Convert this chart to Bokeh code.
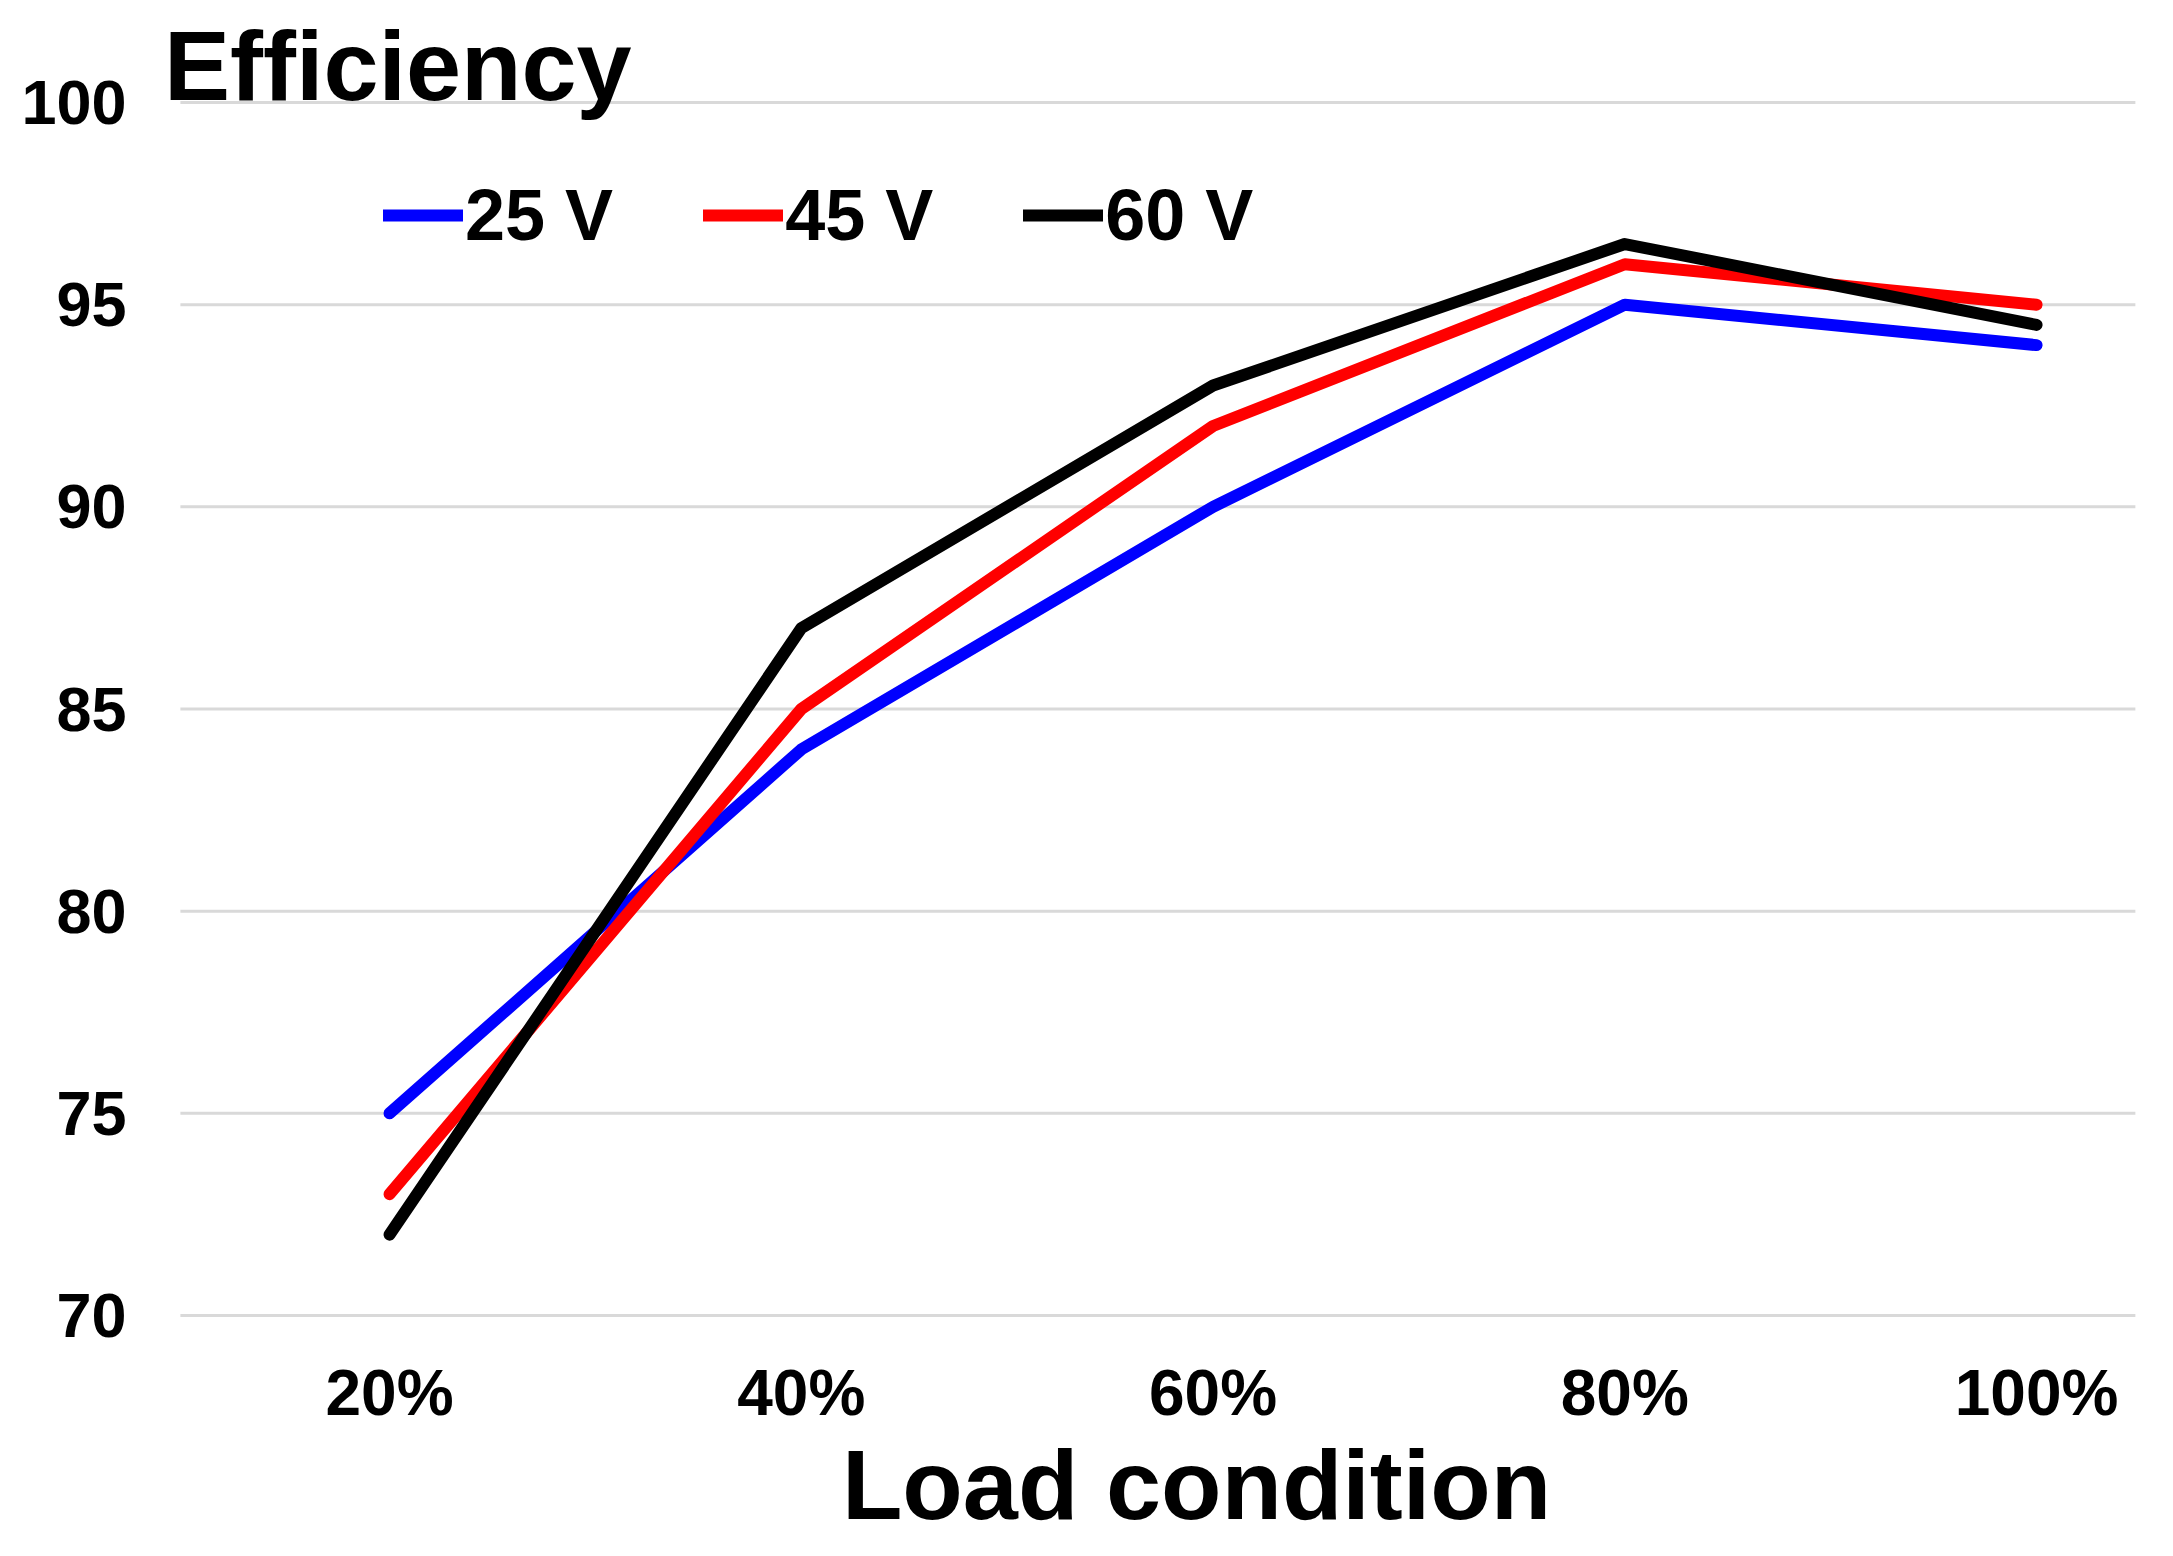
from bokeh.plotting import figure
from bokeh.models import FixedTicker, Legend, LegendItem, Label, Range1d
from bokeh.embed import file_html
from bokeh.resources import INLINE

# ---- data ----
categories = ["20%", "40%", "60%", "80%", "100%"]
series_names = ["25 V", "45 V", "60 V"]
v25 = [75, 84, 90, 95, 94]
v45 = [73, 85, 92, 96, 95]
v60 = [72, 87, 93, 96.5, 94.5]
y_ticks = [70, 75, 80, 85, 90, 95, 100]
colors = ["#0000ff", "#ff0000", "#000000"]
title_text = "Efficiency"
x_title = "Load condition"

FONT = "Liberation Sans"
x = list(range(len(categories)))
GRID_START, GRID_END = -0.508, 4.24

# frame spans the full height; the y range is padded so that 70..100
# falls where the reference grid is, leaving room for the titles inside
p = figure(width=2157, height=1540, output_backend="svg", toolbar_location=None,
           x_range=Range1d(-0.5806, 4.25), y_range=Range1d(64.435, 102.523),
           min_border_left=150, min_border_right=18, min_border_top=0,
           min_border_bottom=0, background_fill_color="white",
           border_fill_color="white")
p.outline_line_color = None
p.title.visible = False

# horizontal grid lines limited to the plotting area of the reference
p.xgrid.visible = False
p.ygrid.visible = False
p.segment(x0=[GRID_START] * len(y_ticks), x1=[GRID_END] * len(y_ticks),
          y0=y_ticks, y1=y_ticks, line_color="#d9d9d9", line_width=3,
          level="underlay")

# axes
for ax in (p.xaxis[0], p.yaxis[0]):
    ax.axis_line_color = None
    ax.major_tick_line_color = None
    ax.minor_tick_line_color = None
    ax.major_tick_out = 0
    ax.major_tick_in = 0
    ax.major_label_text_font = FONT
    ax.major_label_text_font_style = "bold"
    ax.major_label_text_color = "black"

p.xaxis.ticker = FixedTicker(ticks=x)
p.xaxis.major_label_overrides = {i: c for i, c in zip(x, categories)}
p.xaxis.major_label_text_font_size = "64px"
p.xaxis.major_label_standoff = 42
p.xaxis.fixed_location = y_ticks[0]

p.yaxis.ticker = FixedTicker(ticks=y_ticks)
p.yaxis.major_label_text_font_size = "63px"
p.yaxis.major_label_standoff = 24

# lines
items = []
for name, vals, col in zip(series_names, [v25, v45, v60], colors):
    r = p.line(x, vals, line_color=col, line_width=12,
               line_join="round", line_cap="round")
    items.append(LegendItem(label=name, renderers=[r]))

legend = Legend(items=items, orientation="horizontal", location=(233, 1284),
                padding=0, margin=0, spacing=90, glyph_width=80,
                label_standoff=2, border_line_color=None,
                background_fill_alpha=0, label_text_font=FONT,
                label_text_font_style="bold", label_text_font_size="72px",
                label_text_color="black")
p.add_layout(legend, "center")

# titles
p.add_layout(Label(x=-0.548, y=99.555, text=title_text, text_font=FONT,
                   text_font_style="bold", text_font_size="99px",
                   text_baseline="bottom", text_align="left",
                   text_color="black"))
p.add_layout(Label(x=1.96, y=64.44, text=x_title, text_font=FONT,
                   text_font_style="bold", text_font_size="99px",
                   text_baseline="bottom", text_align="center",
                   text_color="black"))

open("out.html", "w").write(file_html(p, INLINE))
